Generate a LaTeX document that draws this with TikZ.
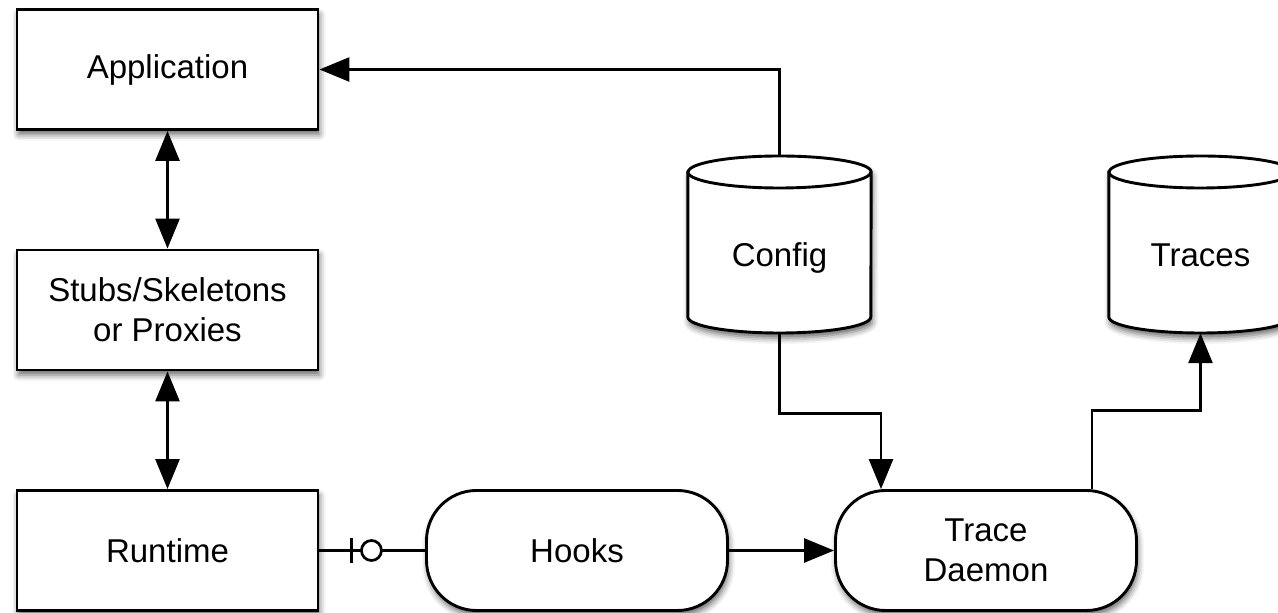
\documentclass[tikz,border=0pt]{standalone}
\usepackage{fontspec}
\setmainfont{Liberation Sans}
\usetikzlibrary{arrows.meta,calc,shadows.blur}

\tikzset{
  softshadow/.style={blur shadow={shadow xshift=1.5pt, shadow yshift=-5pt,
      shadow blur radius=6pt, shadow opacity=60}},
  label text/.style={font=\fontsize{33}{40}\selectfont, align=center},
  block/.style={draw, line width=2.9pt, fill=white, softshadow, label text,
      minimum width=301pt, minimum height=120pt, inner sep=0pt},
  stadium/.style={block, rounded corners=50pt},
  store/.style={minimum width=183pt, minimum height=177pt, inner sep=0pt},
  cylline/.style={line width=2.9pt},
  link/.style={line width=2.7pt},
  tip/.style={Triangle[length=30pt,width=24pt,fill=black]},
  flow/.style={link, -{Triangle[length=30pt,width=24pt,fill=black]}},
  twoway/.style={link, {Triangle[length=30pt,width=24pt,fill=black]}-{Triangle[length=30pt,width=24pt,fill=black]}},
}

\begin{document}
\begin{tikzpicture}[x=1pt,y=1pt]
  \useasboundingbox (0,0) rectangle (1278,613);

  % left column of rectangular blocks
  \node[block] (app)     at (167.5,543.5) {Application};
  \node[block] (stubs)   at (167.5,303)   {Stubs/Skeletons\\or Proxies};
  \node[block] (runtime) at (167.5,62.5)  {Runtime};

  % bottom row of rounded blocks
  \node[stadium] (hooks)  at (577,62.5) {Hooks};
  \node[stadium] (daemon) at (986,62.5) {Trace\\Daemon};

  % data stores drawn as cylinders around invisible frames
  \node[store] (config) at (779.5,368.5) {};
  \node[store] (traces) at (1200.5,368.5) {};
  \foreach \s in {config,traces}{
    \path[cylline, draw, fill=white, softshadow]
      ($(\s.west)+(0,72.5)$) -- ($(\s.west)+(0,-72.5)$)
      arc (180:360:91.5 and 16) -- ($(\s.east)+(0,72.5)$)
      arc (0:180:91.5 and 16) -- cycle;
    \draw[cylline] ($(\s.west)+(0,72.5)$) arc (180:360:91.5 and 16);
  }
  \node[label text, anchor=base] (configlabel) at (779.5,346) {Config};
  \node[label text, anchor=base] (traceslabel) at (1200.5,346) {Traces};

  % connectors
  \draw[twoway] (stubs.north) -- (app.south);
  \draw[twoway] (runtime.north) -- (stubs.south);
  \draw[flow] (config.north) |- (app.east);
  \draw[flow] (config.south) -- ++(0,-80) -| ($(daemon.north)+(-105,0)$);
  \draw[flow] ($(daemon.north)+(106,0)$) -- ++(0,78.5) -| (traces.south);
  \draw[flow] (hooks.east) -- (daemon.west);

  % runtime to hooks: zero-or-one marker near the runtime end
  \draw[link] (runtime.east) -- (hooks.west);
  \draw[link] ($(runtime.east)+(32,-12.5)$) -- ($(runtime.east)+(32,12.5)$);
  \draw[link, fill=white] ($(runtime.east)+(52,0)$) circle (10);
\end{tikzpicture}
\end{document}
